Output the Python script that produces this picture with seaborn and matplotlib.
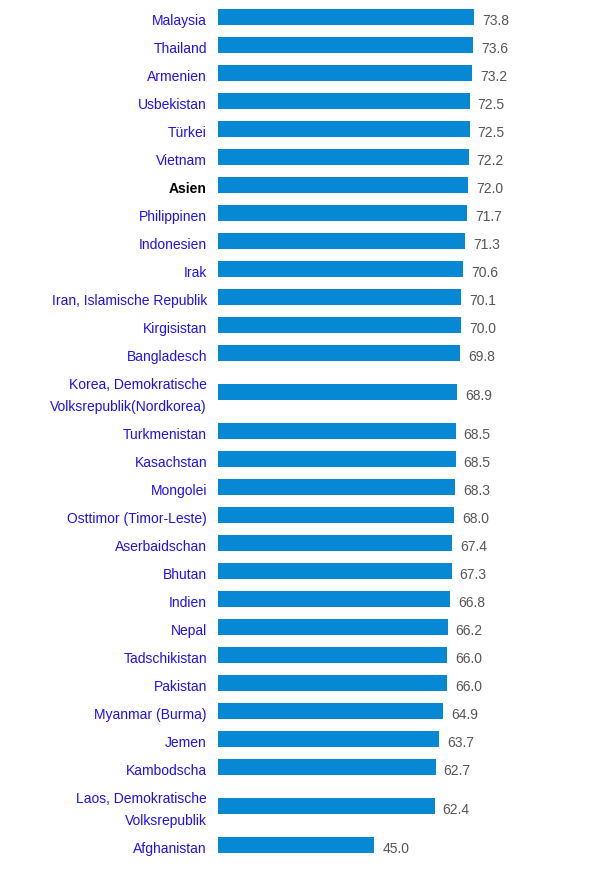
import numpy as np
import pandas as pd
import matplotlib
matplotlib.use("Agg")
import matplotlib.pyplot as plt
import matplotlib.transforms as mtransforms
import seaborn as sns

countries = [
    "Malaysia", "Thailand", "Armenien", "Usbekistan", "Türkei", "Vietnam",
    "Asien", "Philippinen", "Indonesien", "Irak", "Iran, Islamische Republik",
    "Kirgisistan", "Bangladesch", "Korea, Demokratische\nVolksrepublik(Nordkorea)",
    "Turkmenistan", "Kasachstan", "Mongolei", "Osttimor (Timor-Leste)",
    "Aserbaidschan", "Bhutan", "Indien", "Nepal", "Tadschikistan", "Pakistan",
    "Myanmar (Burma)", "Jemen", "Kambodscha", "Laos, Demokratische\nVolksrepublik",
    "Afghanistan",
]
values = [73.8, 73.6, 73.2, 72.5, 72.5, 72.2, 72.0, 71.7, 71.3, 70.6, 70.1,
          70.0, 69.8, 68.9, 68.5, 68.5, 68.3, 68.0, 67.4, 67.3, 66.8, 66.2,
          66.0, 66.0, 64.9, 63.7, 62.7, 62.4, 45.0]
highlight = "Asien"

# row layout: two-line labels take extra vertical room
extra_per_line = 22 / 28
lines = np.array([c.count("\n") for c in countries])
extra = lines * extra_per_line
ypos = np.arange(len(countries)) + np.cumsum(extra) - extra / 2

df = pd.DataFrame({"country": countries, "value": values, "y": ypos})

W, H, DPI = 612, 873, 100
fig = plt.figure(figsize=(W / DPI, H / DPI), dpi=DPI)
left_px = 218
ax = fig.add_axes([left_px / W, 0, 1 - left_px / W, 1])

sns.barplot(data=df, x="value", y="y", orient="h", native_scale=True,
            color="#0788d4", saturation=1, width=16 / 28, ax=ax, errorbar=None)

px_per_unit = 3.47
ax.set_xlim(0, (W - left_px) / px_per_unit)
ax.set_ylim((H - 17) / 28, -17 / 28)
ax.axis("off")

font = "Liberation Sans"
fs = 10
down = mtransforms.ScaledTranslation(0, -4 / DPI, fig.dpi_scale_trans)
lab_tr = mtransforms.blended_transform_factory(fig.transFigure, ax.transData) + down
for c, v, y in zip(countries, values, ypos):
    bold = c == highlight
    ax.text((left_px - 11) / W, y, c, transform=lab_tr, ha="right", va="center",
            fontsize=fs, family=font, linespacing=1.75,
            color="black" if bold else "#1f10f2",
            fontweight="bold" if bold else "normal")
    ax.text(v + 8 / px_per_unit, y, f"{v:.1f}", transform=ax.transData + down,
            ha="left", va="center", fontsize=fs, family=font, color="#555555")

fig.savefig("out.png", dpi=DPI, facecolor="white")
